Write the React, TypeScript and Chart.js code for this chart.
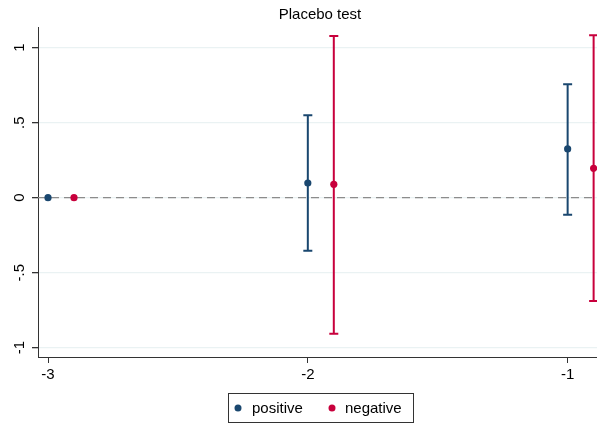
import React, { useEffect, useRef } from "react";
import { Chart, registerables } from "chart.js";

Chart.register(...registerables);

const chartTitle = "Placebo test";
const xCategories = [-3, -2, -1];
const xTickLabels = ["-3", "-2", "-1"];
const yTicks = [-1, -0.5, 0, 0.5, 1];
const yTickLabels = ["-1", "-.5", "0", ".5", "1"];
const seriesNames = ["positive", "negative"];
const positiveEst = [0, 0.098, 0.325];
const positiveLo = [0, -0.353, -0.113];
const positiveHi = [0, 0.549, 0.756];
const negativeEst = [0, 0.089, 0.196];
const negativeLo = [0, -0.907, -0.689];
const negativeHi = [0, 1.078, 1.083];
const negativeShift = 0.1;

const NAVY = "#1a476f";
const RED = "#c8003c";
const FONT = "'Liberation Sans', Arial, sans-serif";

const errorBarPlugin = {
  id: "errorBars",
  beforeDatasetsDraw(chart: any) {
    const { ctx, chartArea, scales } = chart;
    const xs = scales.x;
    const ys = scales.y;
    // zero reference line
    ctx.save();
    ctx.strokeStyle = "#8c8c8c";
    ctx.lineWidth = 1.3;
    ctx.setLineDash([8, 5]);
    const y0 = ys.getPixelForValue(0);
    ctx.beginPath();
    ctx.moveTo(chartArea.left, y0);
    ctx.lineTo(chartArea.right, y0);
    ctx.stroke();
    ctx.setLineDash([]);
    // error bars
    chart.data.datasets.forEach((ds: any) => {
      ctx.strokeStyle = ds.barColor;
      ctx.lineWidth = 2;
      ds.data.forEach((pt: any, i: number) => {
        const lo = ds.lo[i];
        const hi = ds.hi[i];
        if (lo === hi) return;
        const px = xs.getPixelForValue(pt.x);
        const pl = ys.getPixelForValue(lo);
        const ph = ys.getPixelForValue(hi);
        ctx.beginPath();
        ctx.moveTo(px, pl);
        ctx.lineTo(px, ph);
        ctx.moveTo(px - 4.5, pl);
        ctx.lineTo(px + 4.5, pl);
        ctx.moveTo(px - 4.5, ph);
        ctx.lineTo(px + 4.5, ph);
        ctx.stroke();
      });
    });
    ctx.restore();
  },
  afterDraw(chart: any) {
    const { ctx, scales } = chart;
    const ys = scales.y;
    ctx.save();
    ctx.fillStyle = "#000";
    ctx.font = `15px ${FONT}`;
    ctx.textAlign = "center";
    ctx.textBaseline = "middle";
    // title
    ctx.fillText(chartTitle, 320, 15);
    // y tick labels, rotated
    yTicks.forEach((v, i) => {
      const py = ys.getPixelForValue(v);
      ctx.save();
      ctx.translate(20, py);
      ctx.rotate(-Math.PI / 2);
      ctx.fillText(yTickLabels[i], 0, 0);
      ctx.restore();
    });
    // legend
    ctx.strokeStyle = "#333";
    ctx.lineWidth = 1;
    ctx.strokeRect(228.5, 393.5, 185, 29);
    const items = [
      { name: seriesNames[0], color: NAVY, dot: 238, text: 252 },
      { name: seriesNames[1], color: RED, dot: 332, text: 345 },
    ];
    items.forEach((it) => {
      ctx.fillStyle = it.color;
      ctx.beginPath();
      ctx.arc(it.dot, 408, 3.5, 0, Math.PI * 2);
      ctx.fill();
      ctx.fillStyle = "#000";
      ctx.textAlign = "left";
      ctx.fillText(it.name, it.text, 409);
    });
    ctx.restore();
  },
};

export default function App() {
  const ref = useRef<HTMLCanvasElement>(null);
  useEffect(() => {
    if (!ref.current) return;
    const chart = new Chart(ref.current, {
      type: "scatter",
      data: {
        datasets: [
          {
            label: seriesNames[0],
            data: xCategories.map((x, i) => ({ x, y: positiveEst[i] })),
            lo: positiveLo,
            hi: positiveHi,
            barColor: NAVY,
            pointRadius: 3.6,
            pointBackgroundColor: NAVY,
            pointBorderWidth: 0,
          } as any,
          {
            label: seriesNames[1],
            data: xCategories.map((x, i) => ({ x: x + negativeShift, y: negativeEst[i] })),
            lo: negativeLo,
            hi: negativeHi,
            barColor: RED,
            pointRadius: 3.6,
            pointBackgroundColor: RED,
            pointBorderWidth: 0,
          } as any,
        ],
      },
      options: {
        responsive: false,
        animation: false,
        devicePixelRatio: 1,
        layout: { autoPadding: false, padding: { top: 27, bottom: 37, left: 0, right: 0 } },
        plugins: {
          legend: { display: false },
          title: { display: false },
          tooltip: { enabled: false },
        },
        scales: {
          x: {
            type: "linear",
            min: -3.0385,
            max: -0.887,
            afterFit: (s: any) => {
              s.height = 30;
              s.paddingLeft = 0;
              s.paddingRight = 0;
            },
            afterBuildTicks: (s: any) => {
              s.ticks = xCategories.map((v) => ({ value: v }));
            },
            grid: {
              drawOnChartArea: false,
              drawTicks: true,
              tickLength: 6,
              tickColor: "#333",
            },
            border: { display: true, color: "#333", width: 1 },
            ticks: {
              color: "#000",
              font: { family: FONT, size: 15 },
              padding: 3,
              maxRotation: 0,
              callback: (v: any) => {
                const i = xCategories.indexOf(Number(v));
                return i >= 0 ? xTickLabels[i] : "";
              },
            },
          },
          y: {
            type: "linear",
            min: -1.062,
            max: 1.138,
            afterFit: (s: any) => {
              s.width = 38;
              s.paddingTop = 0;
              s.paddingBottom = 0;
            },
            afterBuildTicks: (s: any) => {
              s.ticks = yTicks.map((v) => ({ value: v }));
            },
            grid: {
              color: "#eaf2f3",
              lineWidth: 1.3,
              drawTicks: true,
              tickLength: 6,
              tickColor: "#333",
            },
            border: { display: true, color: "#333", width: 1 },
            ticks: { display: false },
          },
        },
      },
      plugins: [errorBarPlugin],
    } as any);
    return () => chart.destroy();
  }, []);
  return (
    <div style={{ position: "absolute", left: 0, top: 0, width: 597, height: 424, background: "#fff" }}>
      <canvas ref={ref} width={597} height={424} />
    </div>
  );
}
